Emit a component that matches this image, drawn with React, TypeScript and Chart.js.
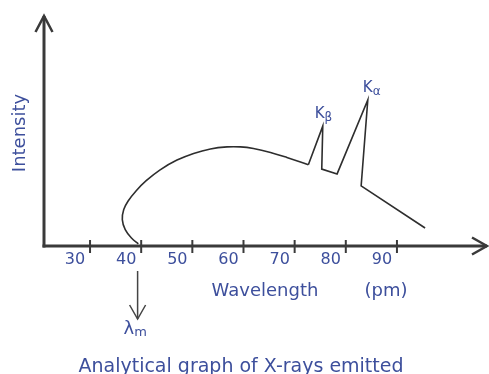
import React, { useEffect, useRef } from "react";
import { Chart, registerables } from "chart.js";

Chart.register(...registerables);

// Wavelength (pm) tick values
const tickValues = [30, 40, 50, 60, 70, 80, 90];
const tickLabels = ["30", "40", "50", "60", "70", "80", "90"];

// Continuous (bremsstrahlung) part of the spectrum: wavelength, intensity
const contX = [39.44, 38.15, 36.88, 36.31, 36.59, 37.45, 39.03, 40.98, 43.7, 47.0, 50.25, 53.53, 56.79, 59.39, 61.95, 65.28, 68.48, 72.68];
const contY = [0.9, 3.33, 7.06, 11.43, 15.76, 19.48, 23.94, 28.27, 32.99, 37.19, 40.09, 42.03, 42.9, 42.9, 42.21, 40.52, 38.35, 35.15];

// Characteristic peaks part (Kβ, Kα) and tail
const peakX = [72.68, 75.5, 75.3, 78.3, 84.3, 83.0, 95.5];
const peakY = [35.15, 51.9, 33.3, 31.2, 63.2, 26.0, 7.8];

const lambdaMin = 39.3;
const kBetaIndex = 1;
const kAlphaIndex = 4;

const TEXT = "#3d4f9c";
const AXIS = "#3a3a3a";
const FONT = "'DejaVu Sans', Verdana, sans-serif";

const toPoints = (xs: number[], ys: number[]) => xs.map((x, i) => ({ x, y: ys[i] }));

const decorPlugin = {
  id: "decor",
  beforeDatasetsDraw(chart: any) {
    const { ctx, scales } = chart;
    const xs = scales.x;
    const ys = scales.y;
    const x0 = xs.getPixelForValue(xs.min);
    const y0 = ys.getPixelForValue(0);
    const yTop = ys.getPixelForValue(ys.max);
    const xEnd = xs.getPixelForValue(xs.max);
    ctx.save();
    ctx.strokeStyle = AXIS;
    ctx.lineWidth = 3;
    ctx.lineCap = "butt";
    // y axis
    ctx.beginPath();
    ctx.moveTo(x0, y0 + 1.5);
    ctx.lineTo(x0, yTop + 1);
    ctx.stroke();
    // x axis
    ctx.beginPath();
    ctx.moveTo(x0 - 1.5, y0);
    ctx.lineTo(xEnd - 1, y0);
    ctx.stroke();
    // arrowheads
    ctx.lineWidth = 2.5;
    ctx.lineJoin = "miter";
    ctx.beginPath();
    ctx.moveTo(x0 - 8.5, yTop + 17);
    ctx.lineTo(x0, yTop + 1);
    ctx.lineTo(x0 + 8.5, yTop + 17);
    ctx.stroke();
    ctx.beginPath();
    ctx.moveTo(xEnd - 16, y0 - 8.5);
    ctx.lineTo(xEnd - 1, y0);
    ctx.lineTo(xEnd - 16, y0 + 8.5);
    ctx.stroke();
    // tick marks crossing the axis
    ctx.lineWidth = 2;
    tickValues.forEach((v) => {
      const px = xs.getPixelForValue(v);
      ctx.beginPath();
      ctx.moveTo(px, y0 - 6);
      ctx.lineTo(px, y0 + 7);
      ctx.stroke();
    });
    ctx.restore();
  },
  afterDraw(chart: any) {
    const { ctx, scales } = chart;
    const xs = scales.x;
    const ys = scales.y;
    const y0 = ys.getPixelForValue(0);
    ctx.save();
    ctx.fillStyle = TEXT;
    // tick labels, set to the left of each tick
    ctx.font = `16px ${FONT}`;
    ctx.textAlign = "center";
    ctx.textBaseline = "middle";
    tickValues.forEach((v, i) => {
      ctx.fillText(tickLabels[i], xs.getPixelForValue(v) - 15, y0 + 14);
    });
    // axis titles
    ctx.font = `18px ${FONT}`;
    ctx.fillText("Wavelength", 265, 291);
    ctx.fillText("(pm)", 386, 291);
    ctx.save();
    ctx.translate(20, 133);
    ctx.rotate(-Math.PI / 2);
    ctx.fillText("Intensity", 0, 0);
    ctx.restore();
    // caption
    ctx.font = `19px ${FONT}`;
    ctx.fillText("Analytical graph of X-rays emitted", 241, 367);

    // peak labels
    const drawK = (idx: number, sub: string, dx: number, dy: number) => {
      const px = xs.getPixelForValue(peakX[idx]) + dx;
      const py = ys.getPixelForValue(peakY[idx]) + dy;
      ctx.textAlign = "left";
      ctx.textBaseline = "alphabetic";
      ctx.font = `15px ${FONT}`;
      ctx.fillText("K", px, py);
      const w = ctx.measureText("K").width;
      ctx.font = `12px ${FONT}`;
      ctx.fillText(sub, px + w, py + 3);
    };
    drawK(kBetaIndex, "β", -8, -8);
    drawK(kAlphaIndex, "α", -5, -8);

    // λm arrow
    const lx = xs.getPixelForValue(lambdaMin);
    ctx.strokeStyle = "#444";
    ctx.lineWidth = 1.5;
    ctx.beginPath();
    ctx.moveTo(lx, y0 + 25);
    ctx.lineTo(lx, y0 + 73);
    ctx.stroke();
    ctx.beginPath();
    ctx.moveTo(lx - 8, y0 + 59);
    ctx.lineTo(lx, y0 + 73);
    ctx.lineTo(lx + 8, y0 + 59);
    ctx.stroke();
    ctx.textAlign = "left";
    ctx.textBaseline = "alphabetic";
    ctx.font = `18px ${FONT}`;
    ctx.fillText("λ", lx - 14, y0 + 88);
    const lw = ctx.measureText("λ").width;
    ctx.font = `13px ${FONT}`;
    ctx.fillText("m", lx - 14 + lw, y0 + 90);
    ctx.restore();
  },
};

export default function App() {
  const ref = useRef<HTMLCanvasElement | null>(null);
  useEffect(() => {
    if (!ref.current) return;
    const chart = new Chart(ref.current, {
      type: "scatter",
      data: {
        datasets: [
          {
            data: toPoints(contX, contY),
            showLine: true,
            tension: 0.4,
            borderColor: "#2e2e2e",
            borderWidth: 1.6,
            pointRadius: 0,
          },
          {
            data: toPoints(peakX, peakY),
            showLine: true,
            tension: 0,
            borderColor: "#2e2e2e",
            borderWidth: 1.6,
            pointRadius: 0,
          },
        ],
      },
      options: {
        animation: false,
        responsive: false,
        events: [],
        layout: { padding: { left: 44, right: 1, top: 15, bottom: 128 } },
        plugins: { legend: { display: false }, tooltip: { enabled: false } },
        scales: {
          x: { type: "linear", min: 21, max: 107.8, display: false },
          y: { type: "linear", min: 0, max: 100, display: false },
        },
      },
      plugins: [decorPlugin],
    });
    return () => chart.destroy();
  }, []);
  return (
    <div style={{ position: "fixed", left: 0, top: 0, width: 489, height: 374, background: "#fff" }}>
      <canvas ref={ref} width={489} height={374} style={{ width: 489, height: 374, display: "block" }} />
    </div>
  );
}
